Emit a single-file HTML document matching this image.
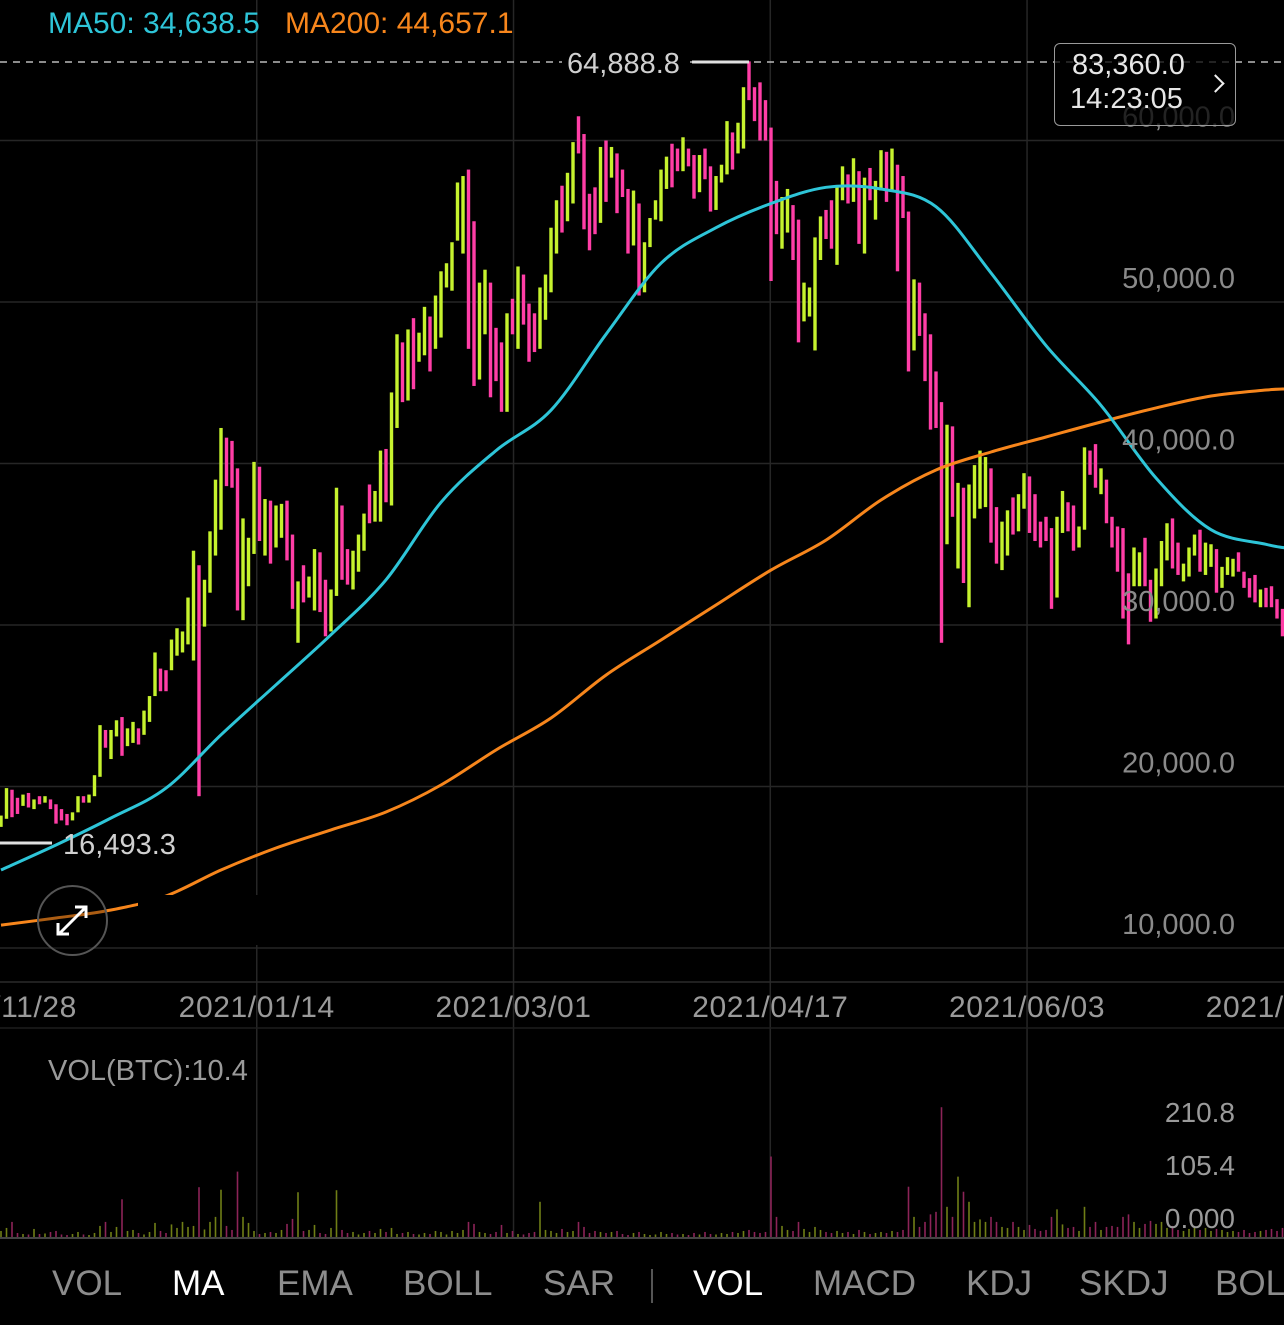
<!DOCTYPE html>
<html><head><meta charset="utf-8">
<style>
html,body{margin:0;padding:0;background:#000;}
body{width:1284px;height:1325px;overflow:hidden;position:relative;font-family:"Liberation Sans",sans-serif;}
svg{position:absolute;left:0;top:0;}
</style></head>
<body>
<svg id="chart" width="1284" height="1325" viewBox="0 0 1284 1325" xmlns="http://www.w3.org/2000/svg">
  <g id="grid"></g>
  <g id="candles"></g>
  <g id="mas"></g>
  <g id="vols"></g>
  <g id="labels"></g>
</svg>
<script>
// ---- data (prices in thousands) ----
const highs = [18.2,19.9,19.8,19.3,19.5,19.6,19.2,19.4,19.4,19.2,18.9,18.6,18.3,18.4,19.4,19.4,19.5,20.7,23.8,23.5,
23.5,24.1,24.3,23.6,24.0,23.6,24.7,25.6,28.3,27.3,27.2,29.1,29.8,29.6,31.7,34.6,33.7,32.8,35.8,39.0,
42.2,41.6,41.4,39.7,36.6,35.4,40.1,39.8,37.8,37.7,37.4,37.5,37.7,35.6,32.7,33.7,33.0,34.7,34.5,32.8,
32.2,38.5,37.4,34.7,34.6,35.6,36.9,38.7,38.3,40.8,40.9,44.4,48.0,47.5,48.3,49.0,48.1,49.7,49.1,50.4,
51.9,52.4,53.7,57.4,57.8,58.2,55.0,51.2,52.0,51.2,48.4,47.5,49.3,50.2,52.2,51.7,49.9,49.3,50.9,51.7,
54.6,56.3,57.2,58.0,59.9,61.5,60.4,56.7,57.1,59.6,60.0,59.6,59.2,58.2,57.0,56.9,56.1,53.7,55.2,56.3,
58.2,59.0,59.8,59.5,60.2,59.5,59.1,59.1,59.5,58.4,57.8,58.5,61.2,60.5,61.1,63.3,64.9,63.3,63.6,62.5,
60.8,57.5,56.5,57.0,56.0,55.1,51.2,50.9,54.0,55.3,55.7,56.3,57.1,58.4,57.9,58.9,58.1,57.7,58.3,57.5,
59.4,59.3,59.5,58.5,57.8,55.6,51.4,51.2,49.3,48.0,45.7,43.8,42.4,42.3,38.8,38.5,38.7,39.9,40.8,40.4,
39.7,37.3,36.4,37.1,37.9,38.1,39.4,39.2,38.1,36.4,36.7,36.0,36.7,38.3,37.6,37.4,36.1,41.0,40.8,41.2,
39.7,39.0,36.7,36.1,36.0,33.2,34.8,34.5,35.4,32.8,33.5,35.2,36.3,36.6,35.1,33.8,34.8,35.6,35.9,35.1,
35.0,34.7,33.6,34.2,34.1,34.5,33.3,32.9,33.1,32.2,32.3,32.4,31.6,31.0];
const lows = [17.5,18.0,18.1,18.3,18.8,18.7,18.6,18.9,19.0,18.6,17.7,17.9,17.6,17.9,18.4,19.0,19.0,19.4,20.6,22.4,
21.7,23.1,21.9,22.5,22.7,22.6,23.2,24.0,25.6,25.9,25.9,27.2,28.1,28.3,28.8,27.8,19.4,29.9,32.0,34.3,
35.9,38.6,38.5,30.9,30.3,32.4,34.4,35.2,34.3,33.8,34.8,35.4,34.0,31.0,28.9,31.4,31.7,30.9,30.8,29.3,
29.6,31.8,32.8,32.5,32.2,33.3,34.6,36.3,36.4,36.4,37.6,37.4,42.2,43.8,43.9,44.6,46.3,46.7,45.7,47.1,
47.8,50.9,50.7,53.8,53.0,47.1,44.8,45.2,48.0,44.1,45.1,43.2,43.2,48.0,47.1,48.6,46.3,46.9,47.1,48.9,
50.6,53.0,54.3,55.0,56.1,59.2,54.5,53.2,54.2,54.9,56.2,57.7,55.5,56.5,53.0,53.5,50.4,50.6,53.4,55.1,
55.0,57.0,57.1,58.1,58.1,58.4,56.4,56.8,57.6,55.6,55.7,57.4,57.9,58.2,59.2,59.5,62.5,61.2,60.0,60.0,
51.3,54.2,53.3,54.3,52.6,47.5,48.8,49.1,47.0,52.6,53.9,53.3,52.3,56.3,56.1,56.2,53.6,53.0,56.3,55.1,
56.9,56.2,56.9,51.9,55.2,45.7,47.0,47.9,45.1,42.1,42.2,28.9,35.0,36.7,33.5,32.6,31.1,36.6,37.2,37.3,
35.1,33.8,33.4,34.3,35.6,35.8,37.2,35.7,35.2,34.8,35.2,31.0,31.7,35.7,35.8,34.6,34.8,35.9,39.3,38.5,
38.1,36.3,34.8,33.3,30.4,28.8,32.4,32.4,32.4,30.2,30.4,32.4,34.0,33.5,33.1,32.7,33.0,34.3,33.3,33.1,
33.6,32.0,32.3,33.1,33.0,33.3,32.3,31.7,31.4,31.1,31.1,31.1,30.4,29.3];
const direction = ["uuddududud","ddduuduuud","uuduuduuud","duuuuuduuu","uddduuudud",
"uudduduudd","uudduuuduu","duududuudu","uuuuudduud","ddududdduu",
"uuduuddddu","duddduduuu","uudduddudd","uuuduudddd","dduudduuuu",
"dduudududu","ududdduddd","ddududuuuu","dduuduuddd","dduudduudd",
"uddddduudd","uuudduuudu","uduuuddddu","dddd"].join("");
const volumes = [12,18,30,8,6,5,16,6,7,10,12,5,4,6,10,5,4,8,22,30,
10,20,75,12,14,8,5,10,28,12,8,25,18,30,20,22,99,15,30,40,
94,22,14,130,40,28,12,6,8,10,8,14,26,36,89,12,14,24,8,6,
18,93,14,8,10,5,8,12,8,16,10,18,6,8,10,6,5,8,6,12,
10,5,12,8,14,30,26,10,8,6,10,24,8,12,6,5,8,10,70,14,
12,8,16,10,12,30,20,8,12,10,8,10,12,6,4,8,10,6,4,5,
10,6,8,5,6,4,8,5,10,6,5,8,6,10,8,12,14,10,8,10,
160,40,22,14,12,30,16,10,20,14,10,8,12,8,10,6,14,10,6,8,
10,8,12,10,14,100,40,20,30,45,50,258,60,40,120,90,70,30,35,30,
40,30,20,18,30,20,14,24,16,12,14,40,55,25,18,20,12,60,20,30,
14,20,22,20,40,45,30,18,26,32,26,30,18,22,14,12,16,20,14,18,
12,16,14,10,12,10,14,8,10,12,14,16,12,18];
const maIndex = [0,10,20,30,40,50,60,70,80,90,100,110,120,130,140,150,160,170,180,190,200,210,220,230,233];
const ma50 = [14.83,16.38,18.05,19.9,23.2,26.3,29.4,32.8,37.6,40.8,43.3,48.0,52.4,54.6,56.1,57.1,57.0,55.9,51.8,47.3,43.6,39.1,35.9,35.0,34.8];
const ma200 = [11.42,11.86,12.35,13.22,14.83,16.19,17.31,18.42,20.09,22.26,24.24,26.9,29.07,31.24,33.4,35.26,37.74,39.6,40.71,41.64,42.57,43.44,44.18,44.55,44.61];
const priceTicks = [60,50,40,30,20,10];
const volTicks = [210.8,105.4,0];
const volTickText = ["210.8","105.4","0.000"];
const dateLabels = ["2020/11/28","2021/01/14","2021/03/01","2021/04/17","2021/06/03","2021/07/20"];
const dateDayIdx = [0,47,94,141,188,235];

const NS="http://www.w3.org/2000/svg";
const xBar = i => 1 + 5.5*i;
const xDate = d => d*5.463;
const yP = p => 302 + (50 - p)*16.15;
const yV = v => 1237 - v*0.503;
function mk(tag, attrs, parent){const e=document.createElementNS(NS,tag);for(const k in attrs)e.setAttribute(k,attrs[k]);parent.appendChild(e);return e;}
const grid=document.getElementById('grid'), cg=document.getElementById('candles'), mg=document.getElementById('mas'), vg=document.getElementById('vols'), lg=document.getElementById('labels');

priceTicks.forEach(p=>{
  const l=mk('line',{x1:0,x2:1284,y1:yP(p),y2:yP(p),stroke:'#262626','stroke-width':1.5},grid);
  
  
});
dateDayIdx.slice(1,5).forEach(d=>{
  const l=mk('line',{x1:xDate(d),x2:xDate(d),y1:0,y2:1237,stroke:'#262626','stroke-width':1.5},grid);
  
  
});
mk('line',{x1:0,x2:1284,y1:982,y2:982,stroke:'#2a2a2a','stroke-width':1.5},grid);
mk('line',{x1:0,x2:1284,y1:1028,y2:1028,stroke:'#1e1e1e','stroke-width':1.5},grid);

for(let i=0;i<highs.length;i++){
  const up = direction[i]==='u';
  const r=mk('rect',{x:xBar(i)-1.7,y:yP(highs[i]),width:3.4,height:Math.max(1,yP(lows[i])-yP(highs[i])),fill:up?'#c6f22e':'#ff3ea6'},cg);
  
  
  const v=mk('rect',{x:xBar(i)-0.8,y:yV(volumes[i]),width:1.6,height:volumes[i]*0.503,fill:up?'#6f7e16':'#8c2458'},vg);
  
  
}
function line(arr,color,name){
  const pts = arr.map((v,k)=>[xBar(maIndex[k]), yP(v)]);
  pts.push([1284, yP(arr[arr.length-1])]);
  let d='M'+pts[0][0].toFixed(1)+','+pts[0][1].toFixed(1);
  for(let k=0;k<pts.length-1;k++){
    const p0=pts[Math.max(0,k-1)], p1=pts[k], p2=pts[k+1], p3=pts[Math.min(pts.length-1,k+2)];
    const c1=[p1[0]+(p2[0]-p0[0])/6, p1[1]+(p2[1]-p0[1])/6];
    const c2=[p2[0]-(p3[0]-p1[0])/6, p2[1]-(p3[1]-p1[1])/6];
    d+='C'+c1[0].toFixed(1)+','+c1[1].toFixed(1)+' '+c2[0].toFixed(1)+','+c2[1].toFixed(1)+' '+p2[0].toFixed(1)+','+p2[1].toFixed(1);
  }
  const p=mk('path',{d:d,fill:'none',stroke:color,'stroke-width':3,'stroke-linejoin':'round'},mg);
  
  
}
line(ma200,'#f7861c','ma200-line');
line(ma50,'#2ec5d8','ma50-line');
mk('rect',{x:138,y:895,width:219,height:50,fill:'#000'},mg);

function txt(s,x,y,attrs,name){
  const t=mk('text',Object.assign({x:x,y:y,'font-family':'Liberation Sans, sans-serif'},attrs),lg);
  t.textContent=s;
  
  
  return t;
}
priceTicks.forEach(p=>{
  const s=(p*1000).toLocaleString('en-US')+'.0';
  txt(s,1235,yP(p)-14,{'text-anchor':'end','font-size':29,fill:'#8a8a8a'},'y-tick-label');
});
dateLabels.forEach((s,k)=>{
  txt(s,xDate(dateDayIdx[k]),1017,{'text-anchor':'middle','font-size':30,fill:'#9a9a9a','letter-spacing':0.6},'x-tick-label');
});
volTicks.forEach((v,k)=>{
  txt(volTickText[k],1235,yV(v)-9,{'text-anchor':'end','font-size':28,fill:'#9a9a9a'},'volume-tick-label');
});
const hiIdx = highs.indexOf(Math.max(...highs));
mk('line',{x1:0,x2:1284,y1:62,y2:62,stroke:'#bbb','stroke-width':1.5,'stroke-dasharray':'7,6'},lg);
mk('rect',{x:562,y:48,width:128,height:28,fill:'#000'},lg);
txt('64,888.8',567,73,{'font-size':29,fill:'#d0d0d0'},'max-price-label');
mk('line',{x1:692,x2:xBar(hiIdx),y1:62,y2:62,stroke:'#e0e0e0','stroke-width':3},lg);
mk('line',{x1:0,x2:52,y1:843,y2:843,stroke:'#e0e0e0','stroke-width':3},lg);
txt('16,493.3',63,854,{'font-size':29,fill:'#d0d0d0'},'min-price-label');
</script>
<div style="position:absolute;left:48px;top:7px;font-size:30px;color:#2ec5d8;">MA50: 34,638.5</div>
<div style="position:absolute;left:285px;top:7px;font-size:30px;color:#f7861c;">MA200: 44,657.1</div>
<div style="position:absolute;left:1054px;top:43px;width:180px;height:81px;border:1.5px solid #9a9a9a;border-radius:6px;background:rgba(0,0,0,0.75);color:#e6e6e6;font-size:29px;">
  <div style="position:absolute;left:17px;top:5px;">83,360.0</div>
  <div style="position:absolute;left:15px;top:39px;">14:23:05</div>
  <div style="position:absolute;left:154px;top:33px;width:11px;height:11px;border-top:2px solid #eee;border-right:2px solid #eee;transform:rotate(45deg);"></div>
</div>
<div style="position:absolute;left:37px;top:885px;width:67px;height:67px;border:2px solid #555;border-radius:50%;background:rgba(0,0,0,0.3);">
  <svg width="67" height="67" style="position:absolute;left:0;top:0"><g stroke="#fff" stroke-width="3" fill="none"><line x1="20" y1="47" x2="46" y2="21"/><polyline points="36,20 47,20 47,31"/><polyline points="19,36 19,47 30,47"/></g></svg>
</div>
<div style="position:absolute;left:48px;top:1055px;font-size:29px;color:#9a9a9a;">VOL(BTC):10.4</div>
<div style="position:absolute;left:0;top:1237px;width:1284px;height:1.5px;background:#444;"></div>
<div style="position:absolute;left:0;top:1264px;width:1284px;height:48px;font-size:35px;color:#8c8c8c;white-space:nowrap;">
  <span style="position:absolute;left:52px;">VOL</span>
  <span style="position:absolute;left:172px;color:#fff;">MA</span>
  <span style="position:absolute;left:277px;">EMA</span>
  <span style="position:absolute;left:403px;">BOLL</span>
  <span style="position:absolute;left:543px;">SAR</span>
  <span style="position:absolute;left:651px;top:5px;width:2px;height:34px;background:#555;"></span>
  <span style="position:absolute;left:693px;color:#fff;">VOL</span>
  <span style="position:absolute;left:813px;">MACD</span>
  <span style="position:absolute;left:966px;">KDJ</span>
  <span style="position:absolute;left:1079px;">SKDJ</span>
  <span style="position:absolute;left:1215px;">BOLL</span>
</div>
</body></html>
